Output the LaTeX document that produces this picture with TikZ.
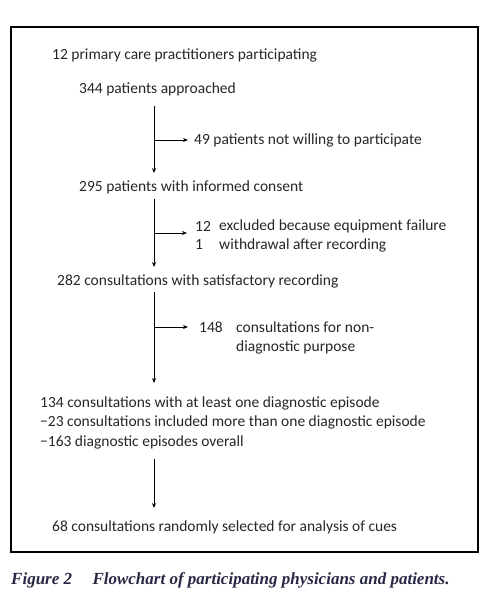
\documentclass[tikz,border=0pt]{standalone}
\usepackage{fontspec}
\setmainfont{Carlito}
\newfontfamily\capfont{Liberation Serif}
\usetikzlibrary{arrows.meta}
\definecolor{capcol}{RGB}{40,40,70}
\tikzset{
  txt/.style={anchor=west, inner sep=0pt, font=\fontsize{15.5}{18}\selectfont, text=black!85},
  flow/.style={line width=1pt, -{Stealth[length=5pt,width=4pt]}},
}
\begin{document}
\begin{tikzpicture}[x=1pt,y=-1pt]
\useasboundingbox (0,0) rectangle (489,600);
\draw[line width=1.1pt] (11,27) rectangle (478,552);
\node[txt] (a) at (52,55) {12 primary care practitioners participating};
\node[txt] (b) at (79,89) {344 patients approached};
\node[txt] (c) at (79,187) {295 patients with informed consent};
\node[txt] (d) at (57,281) {282 consultations with satisfactory recording};
\node[txt] (e) at (40,403) {134 consultations with at least one diagnostic episode};
\node[txt] (e2) at (40,422) {\textminus23 consultations included more than one diagnostic episode};
\node[txt] (e3) at (40,442) {\textminus163 diagnostic episodes overall};
\node[txt] (f) at (52,527) {68 consultations randomly selected for analysis of cues};
\node[txt] (x1) at (194,140) {49 patients not willing to participate};
\node[txt] (x2n) at (195,226) {12};
\node[txt] (x2) at (219,226) {excluded because equipment failure};
\node[txt] (x3n) at (195,245) {1};
\node[txt] (x3) at (219,245) {withdrawal after recording};
\node[txt] (x4n) at (199,327) {148};
\node[txt] (x4) at (236,327) {consultations for non-};
\node[txt] (x4b) at (236,347) {diagnostic purpose};
\coordinate (s1) at (154,106); \coordinate (t1) at (154,173);
\coordinate (s2) at (154,199); \coordinate (t2) at (154,267);
\coordinate (s3) at (154,292); \coordinate (t3) at (154,383);
\coordinate (s4) at (154,459); \coordinate (t4) at (154,508);
\draw[flow] (s1) -- (t1);
\draw[flow] (s2) -- (t2);
\draw[flow] (s3) -- (t3);
\draw[flow] (s4) -- (t4);
\draw[flow] (154,140) -- ([xshift=-6pt]x1.west);
\draw[flow] (154,233) -- (187,233);
\draw[flow] (154,327) -- ([xshift=-11pt]x4n.west);
\node[anchor=west, inner sep=0pt, font=\capfont\itshape\bfseries\fontsize{17}{19}\selectfont, text=capcol] (cap) at (11,580) {Figure 2\hspace{1.2em}Flowchart of participating physicians and patients.};
\end{tikzpicture}
\end{document}
